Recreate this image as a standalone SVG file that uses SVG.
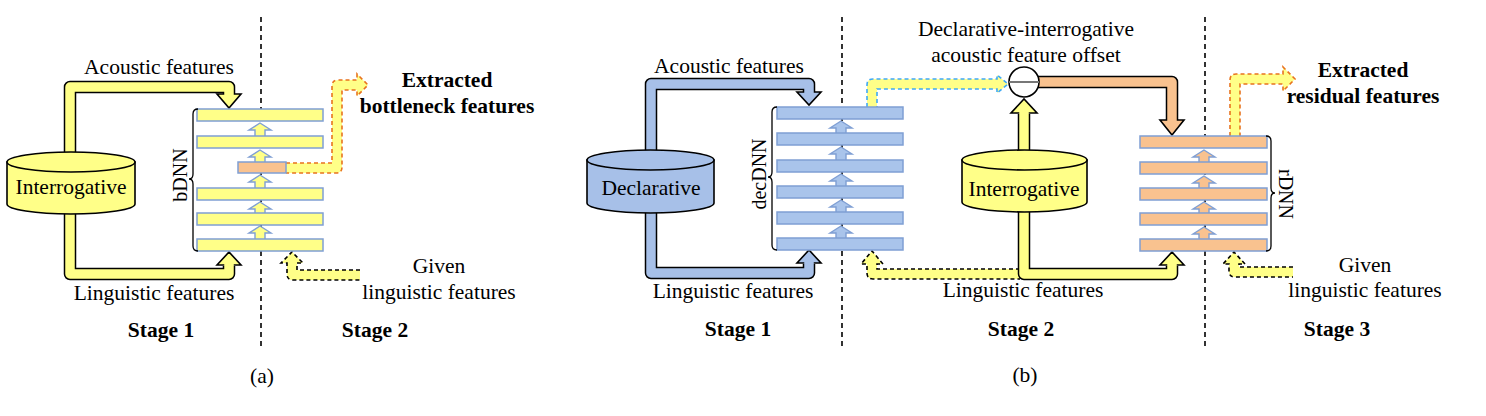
<svg xmlns="http://www.w3.org/2000/svg" xmlns:xlink="http://www.w3.org/1999/xlink" width="1486" height="416" viewBox="0 0 1486 416" font-family="Liberation Serif, Times New Roman, serif">
<style>
text{font-family:"Liberation Serif","Times New Roman",serif;font-size:21.5px;fill:#000;text-anchor:middle}
.b{font-weight:bold}
.rot{font-size:20px}
.vl{stroke:#000;stroke-width:1.6;stroke-dasharray:5 4;fill:none}
.cyl{stroke:#000;stroke-width:1.6}
.cy{fill:#FFFF88}.cb{fill:#A7C0E8}
.po{fill:none;stroke:#000;stroke-width:12.5;stroke-linejoin:round}
.fy{fill:none;stroke:#FFFF88;stroke-width:9.5;stroke-linejoin:round}
.fb{fill:none;stroke:#A7C0E8;stroke-width:9.5;stroke-linejoin:round}
.fo{fill:none;stroke:#F9C28F;stroke-width:9.5;stroke-linejoin:round}
.hy{fill:#FFFF88;stroke:#000;stroke-width:1.6;stroke-linejoin:miter}
.hb{fill:#A7C0E8;stroke:#000;stroke-width:1.6}
.ho{fill:#F9C28F;stroke:#000;stroke-width:1.6}
.ly{fill:#FFFF88;stroke:#7F9FD4;stroke-width:1.5}
.lb{fill:#A9C4EB;stroke:#7F9FD4;stroke-width:1.5}
.lo{fill:#F9C28F;stroke:#7F9FD4;stroke-width:1.5}
.da{fill:#FFFF88;stroke-width:1.6;stroke-dasharray:4 3}
.dk{stroke:#000}.dor{stroke:#E8731E}.dbl{stroke:#3FA9F5}
.br{fill:none;stroke:#000;stroke-width:1.3}
</style>
<defs>
<path id="ua" d="M0,0 L11,7 H5 V16 H-5 V7 H-11 Z" stroke="#7F9FD4" stroke-width="1.4"/>
</defs>

<g id="stage-dividers">
<line class="vl" x1="261" y1="17" x2="261" y2="347"/>
<line class="vl" x1="842" y1="17" x2="842" y2="346"/>
<line class="vl" x1="1205" y1="17" x2="1205" y2="346"/>
</g>

<g id="connectors">
<path class="po" d="M70,175 V87 H229 V95"/>
<polygon class="hy" points="217,94 241,94 229,108"/>
<path class="fy" d="M70,175 V87 H229 V97"/>
<path class="po" d="M70,200 V274 H229 V266"/>
<polygon class="hy" points="217,265 241,265 229,252"/>
<path class="fy" d="M70,200 V274 H229 V263"/>
<path class="da dor" d="M286,163 H332 V86 Q332,80 338,80 H357 V74 L368,85 L357,96 V90 H342 V167 Q342,173 336,173 H286"/>
<path class="da dk" d="M360,270 H297 V263 H303 L292,252 L281,263 H287 V274 Q287,280 293,280 H360"/>

<path class="po" d="M651,175 V84 H809 V93"/>
<polygon class="hb" points="797,92 821,92 809,105"/>
<path class="fb" d="M651,175 V84 H809 V95"/>
<path class="po" d="M651,195 V273 H809 V264"/>
<polygon class="hb" points="797,263 821,263 809,250"/>
<path class="fb" d="M651,195 V273 H809 V261"/>
<path class="da dbl" d="M867,107 V85 Q867,79 873,79 H997 V75 L1008,84 L997,93 V89 H877 V107"/>
<path class="da dk" d="M1020,269 H877 V264 H883 L872,251 L861,264 H867 V273 Q867,279 873,279 H1020"/>
<path class="po" d="M1024,165 V114"/>
<polygon class="hy" points="1011,113 1037,113 1024,99"/>
<path class="fy" d="M1024,165 V111"/>
<path class="po" d="M1024,195 V274 H1172 V266"/>
<polygon class="hy" points="1160,265 1184,265 1172,252"/>
<path class="fy" d="M1024,195 V274 H1172 V263"/>
<path class="po" d="M1030,82 H1172 V121"/>
<polygon class="ho" points="1160,120 1184,120 1172,135"/>
<path class="fo" d="M1030,82 H1172 V123"/>
<path class="da dor" d="M1230,136 V80 Q1230,74 1236,74 H1283 V67 L1295,79 L1283,91 V84 H1240 V136"/>
<path class="da dk" d="M1293,267 H1239 V264 H1245 L1234,252 L1223,264 H1229 V271 Q1229,277 1235,277 H1293"/>
</g>

<g id="interrogative-a">
<path class="cyl cy" d="M7,162 V204 A64,10 0 0 0 135,204 V162 Z"/>
<ellipse class="cyl cy" cx="71" cy="162" rx="64" ry="10"/>
<text x="71" y="194">Interrogative</text>
</g>

<g id="bDNN">
<use xlink:href="#ua" href="#ua" x="260" y="123" fill="#FFFF88"/>
<use xlink:href="#ua" href="#ua" x="260" y="150" fill="#FFFF88"/>
<use xlink:href="#ua" href="#ua" x="260" y="175" fill="#FFFF88"/>
<use xlink:href="#ua" href="#ua" x="260" y="202" fill="#FFFF88"/>
<use xlink:href="#ua" href="#ua" x="260" y="226" fill="#FFFF88"/>
<rect class="ly" x="197" y="109" width="126" height="12"/>
<rect class="ly" x="197" y="136" width="126" height="12"/>
<rect class="lo" x="238" y="162" width="48" height="11"/>
<rect class="ly" x="197" y="188" width="126" height="12"/>
<rect class="ly" x="197" y="213" width="126" height="12"/>
<rect class="ly" x="197" y="239" width="126" height="12"/>
<path class="br" d="M198,109 Q193,109 193,114 V174 Q193,179 189,179 Q193,179 193,184 V246 Q193,251 198,251"/>
<text class="rot" transform="translate(187,175) rotate(-90)">bDNN</text>
</g>

<g id="declarative">
<path class="cyl cb" d="M587,160 V203 A63.5,10 0 0 0 714,203 V160 Z"/>
<ellipse class="cyl cb" cx="650.5" cy="160" rx="63.5" ry="10"/>
<text x="651" y="195">Declarative</text>
</g>

<g id="decDNN">
<use xlink:href="#ua" href="#ua" x="841" y="121" fill="#A9C4EB"/>
<use xlink:href="#ua" href="#ua" x="841" y="147" fill="#A9C4EB"/>
<use xlink:href="#ua" href="#ua" x="841" y="174" fill="#A9C4EB"/>
<use xlink:href="#ua" href="#ua" x="841" y="200" fill="#A9C4EB"/>
<use xlink:href="#ua" href="#ua" x="841" y="226" fill="#A9C4EB"/>
<rect class="lb" x="777" y="107" width="126" height="12"/>
<rect class="lb" x="777" y="133" width="126" height="12"/>
<rect class="lb" x="777" y="160" width="126" height="12"/>
<rect class="lb" x="777" y="186" width="126" height="12"/>
<rect class="lb" x="777" y="212" width="126" height="12"/>
<rect class="lb" x="777" y="238" width="126" height="12"/>
<path class="br" d="M777,107 Q772,107 772,112 V172 Q772,177 768,177 Q772,177 772,182 V245 Q772,250 777,250"/>
<text class="rot" transform="translate(766,174) rotate(-90)">decDNN</text>
</g>

<g id="interrogative-b">
<path class="cyl cy" d="M962,160 V202 A62.5,10 0 0 0 1087,202 V160 Z"/>
<ellipse class="cyl cy" cx="1024.5" cy="160" rx="62.5" ry="10"/>
<text x="1024" y="196">Interrogative</text>
</g>

<g id="offset">
<circle cx="1024" cy="82" r="15" fill="#fff" stroke="#000" stroke-width="1.6"/>
<line x1="1009" y1="82" x2="1039" y2="82" stroke="#777" stroke-width="2"/>
</g>

<g id="rDNN">
<use xlink:href="#ua" href="#ua" x="1204" y="150" fill="#F9C28F"/>
<use xlink:href="#ua" href="#ua" x="1204" y="176" fill="#F9C28F"/>
<use xlink:href="#ua" href="#ua" x="1204" y="202" fill="#F9C28F"/>
<use xlink:href="#ua" href="#ua" x="1204" y="227" fill="#F9C28F"/>
<rect class="lo" x="1140" y="136" width="127" height="12"/>
<rect class="lo" x="1140" y="162" width="127" height="12"/>
<rect class="lo" x="1140" y="188" width="127" height="12"/>
<rect class="lo" x="1140" y="213" width="127" height="12"/>
<rect class="lo" x="1140" y="239" width="127" height="12"/>
<path class="br" d="M1266,136 Q1271,136 1271,141 V188 Q1271,193 1275,193 Q1271,193 1271,198 V246 Q1271,251 1266,251"/>
<text class="rot" transform="translate(1279,194) rotate(90)">rDNN</text>
</g>

<g id="labels">
<text x="159" y="74">Acoustic features</text>
<text x="154" y="300">Linguistic features</text>
<text class="b" x="447" y="87">Extracted</text>
<text class="b" x="447" y="113">bottleneck features</text>
<text x="439" y="273">Given</text>
<text x="439" y="299">linguistic features</text>
<text class="b" x="161" y="337">Stage 1</text>
<text class="b" x="375" y="337">Stage 2</text>
<text x="262" y="383">(a)</text>

<text x="729" y="73">Acoustic features</text>
<text x="733" y="298">Linguistic features</text>
<text x="1026" y="36">Declarative-interrogative</text>
<text x="1026" y="62">acoustic feature offset</text>
<text x="1023" y="297">Linguistic features</text>
<text class="b" x="1363" y="77">Extracted</text>
<text class="b" x="1363" y="103">residual features</text>
<text x="1365" y="272">Given</text>
<text x="1365" y="297">linguistic features</text>
<text class="b" x="738" y="336">Stage 1</text>
<text class="b" x="1021" y="336">Stage 2</text>
<text class="b" x="1337" y="336">Stage 3</text>
<text x="1025" y="382">(b)</text>
</g>
</svg>
